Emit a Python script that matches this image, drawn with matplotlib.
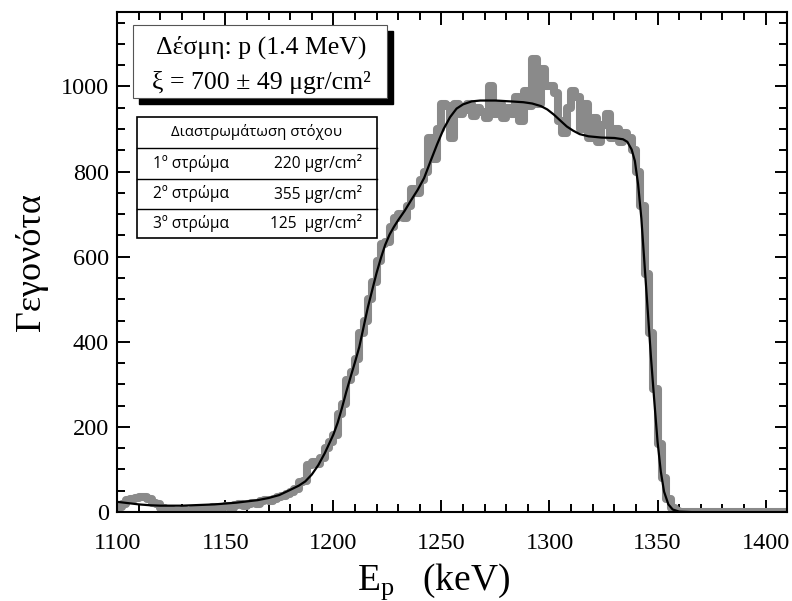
import matplotlib
matplotlib.use("Agg")
import matplotlib.pyplot as plt
import matplotlib.patches as mpatches
from matplotlib.ticker import MultipleLocator
import numpy as np

GRAY = "#8a8a8a"

# measured spectrum, 2 keV bins starting at 1100 keV
bin_width = 2
e_start = 1100
counts = [
    12, 20, 28, 30, 34, 36, 35, 30, 22, 18,
    10, 8, 4, 2, 3, 5, 2, 4, 6, 3,
    6, 10, 12, 8, 12, 14, 10, 16, 18, 15,
    20, 22, 18, 25, 28, 26, 30, 35, 38, 42,
    48, 55, 70, 72, 110, 118, 112, 128, 150, 165,
    180, 230, 255, 310, 330, 360, 420, 450, 500, 540,
    590, 630, 635, 670, 690, 700, 690, 720, 760, 750,
    780, 800, 880, 830, 900, 960, 955, 880, 960, 935,
    945, 960, 930, 950, 940, 925, 1000, 935, 960, 925,
    950, 935, 975, 920, 990, 955, 1065, 960, 1040, 1000,
    1000, 985, 920, 890, 950, 990, 975, 900, 960, 880,
    925, 870, 910, 935, 880, 900, 870, 890, 880, 850,
    800, 720, 560, 420, 290, 160, 80, 30, 10, 3,
    1, 0, 0, 0, 0, 0, 0, 0, 0, 0,
    0, 0, 0, 0, 0, 0, 0, 0, 0, 0,
    0, 0, 0, 0, 0,
]

# simulated (fit) curve
fit_e = [1100, 1105, 1110, 1115, 1120, 1125, 1130, 1135, 1140, 1145,
         1150, 1155, 1160, 1165, 1170, 1175, 1180, 1184, 1187, 1190,
         1193, 1196, 1198, 1200, 1202, 1204, 1206, 1208, 1210, 1212,
         1214, 1216, 1218, 1220, 1222, 1224, 1226, 1228, 1230, 1233,
         1236, 1239, 1242, 1245, 1248, 1251, 1254, 1257, 1260, 1264,
         1268, 1275, 1282, 1288, 1292, 1296, 1299, 1302, 1305, 1308,
         1311, 1314, 1318, 1324, 1330, 1334, 1336, 1338, 1339.5, 1341,
         1342.5, 1344, 1345.5, 1347, 1348.5, 1350, 1351.5, 1353, 1355, 1357,
         1360, 1365]
fit_y = [24, 21, 18, 16, 15, 15, 15, 16, 17, 18,
         20, 22, 25, 28, 33, 40, 52, 62, 72, 88,
         110, 138, 160, 182, 210, 245, 283, 318, 352, 388,
         435, 482, 522, 562, 597, 628, 652, 670, 686, 708,
         733, 757, 785, 825, 864, 900, 928, 948, 958, 965,
         967, 967, 965, 963, 960, 954, 946, 934, 920, 906,
         896, 888, 883, 880, 879, 876, 870, 852, 825, 770,
         690, 580, 470, 360, 260, 165, 95, 48, 18, 6,
         1, 0]

beam_text = "Δέσμη: p (1.4 MeV)"
thick_text = "ξ = 700 ± 49 μgr/cm²"
table_title = "Διαστρωμάτωση στόχου"
layer_names = ["1º στρώμα", "2º στρώμα", "3º στρώμα"]
layer_values = ["220 μgr/cm²", "355 μgr/cm²", "125  μgr/cm²"]

plt.rcParams["font.family"] = ["Liberation Serif", "DejaVu Serif"]
plt.rcParams["mathtext.fontset"] = "custom"
plt.rcParams["mathtext.rm"] = "Liberation Serif"
plt.rcParams["mathtext.it"] = "Liberation Serif:italic"

fig = plt.figure(figsize=(7.92, 6.01), dpi=100)
ax = fig.add_axes([0.148, 0.148, 0.846, 0.832])

edges = e_start + bin_width * np.arange(len(counts) + 1)
ax.step(edges, list(counts) + [counts[-1]], where="post", color=GRAY,
        lw=5.8, solid_joinstyle="round", solid_capstyle="round", zorder=2)
ax.plot(fit_e, fit_y, color="black", lw=1.6, zorder=3)

ax.set_xlim(1100, 1410)
ax.set_ylim(0, 1175)
ax.xaxis.set_major_locator(MultipleLocator(50))
ax.xaxis.set_minor_locator(MultipleLocator(10))
ax.yaxis.set_major_locator(MultipleLocator(200))
ax.yaxis.set_minor_locator(MultipleLocator(50))
ax.tick_params(which="both", direction="in", top=True, right=True,
               width=1.4, labelsize=17.5)
ax.tick_params(which="major", length=9)
ax.tick_params(which="minor", length=6)
ax.tick_params(axis="x", pad=15)
ax.tick_params(axis="y", pad=6)
for sp in ax.spines.values():
    sp.set_linewidth(1.5)

ax.set_xlabel("E$_{\\rm p}$   (keV)", fontsize=27, labelpad=2)
ax.xaxis.set_label_coords(0.472, -0.098)
ax.set_ylabel("Γεγονότα", fontsize=26, labelpad=9)

# info box with drop shadow (figure pixel coords -> fraction)
W, H = 792, 601
def fx(px):
    return px / W
def fy(py):
    return 1 - py / H

fig.patches.append(mpatches.Rectangle((fx(139), fy(104)), fx(393) - fx(139),
                   fy(31) - fy(104), transform=fig.transFigure,
                   facecolor="black", edgecolor="black", zorder=5))
fig.patches.append(mpatches.Rectangle((fx(133), fy(98)), fx(387) - fx(133),
                   fy(25) - fy(98), transform=fig.transFigure,
                   facecolor="white", edgecolor="#555555", lw=0.8, zorder=6))
fig.text(fx(261), fy(47), beam_text, ha="center", va="center",
         fontsize=18.5, zorder=7)
fig.text(fx(261), fy(82), thick_text, ha="center", va="center",
         fontsize=18.5, zorder=7)

# layer table
rows_y = [117, 148, 179, 209, 238]
fig.patches.append(mpatches.Rectangle((fx(137), fy(rows_y[-1])), fx(377) - fx(137),
                   fy(rows_y[0]) - fy(rows_y[-1]), transform=fig.transFigure,
                   facecolor="white", edgecolor="black", lw=1.2, zorder=6))
for yy in rows_y[1:-1]:
    fig.add_artist(plt.Line2D([fx(137), fx(377)], [fy(yy), fy(yy)],
                              transform=fig.transFigure, color="black",
                              lw=1.0, zorder=7))
sans = ["Open Sans", "DejaVu Sans"]
fig.text(fx(257), fy((rows_y[0] + rows_y[1]) / 2), table_title, ha="center",
         va="center", fontsize=10.8, family=sans, zorder=8)
for i in range(3):
    yc = fy((rows_y[i + 1] + rows_y[i + 2]) / 2)
    fig.text(fx(153), yc, layer_names[i], ha="left", va="center",
             fontsize=11.2, family=sans, zorder=8)
    fig.text(fx(362), yc, layer_values[i], ha="right", va="center",
             fontsize=11.2, family=sans, zorder=8)

fig.savefig("out.png", dpi=100)
